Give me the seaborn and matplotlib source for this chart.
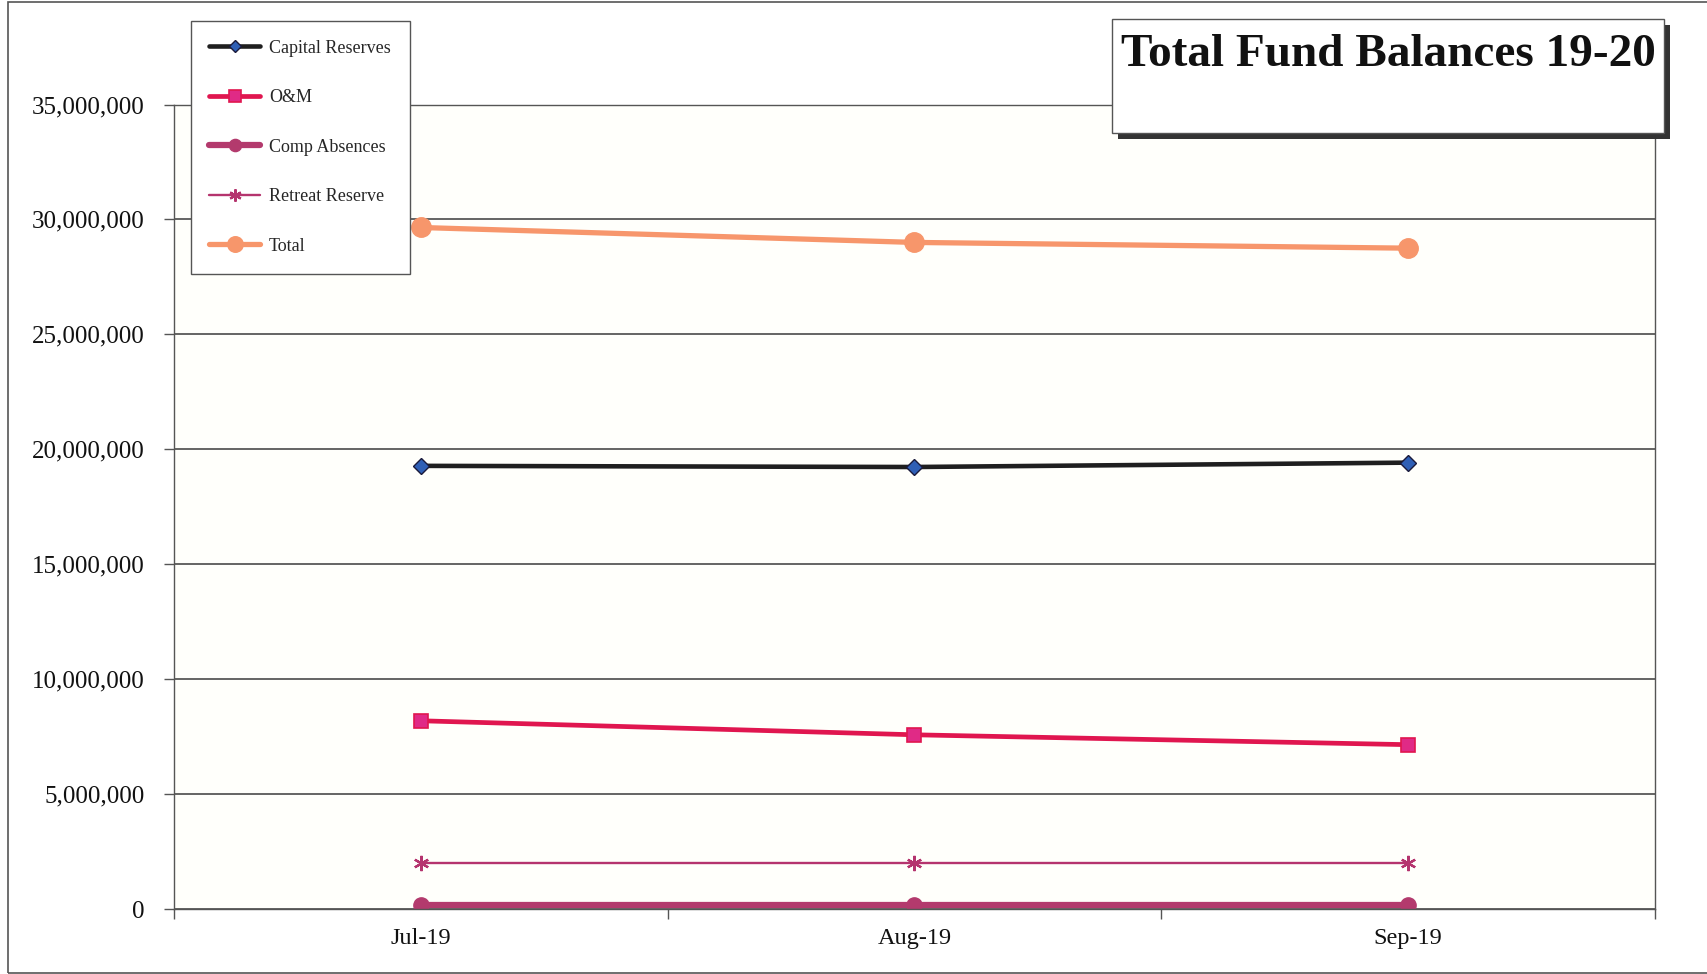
import pandas as pd
import matplotlib.pyplot as plt
import seaborn as sns
from matplotlib.patches import Rectangle
from matplotlib.ticker import FuncFormatter, MultipleLocator

# values
months = ['Jul-19', 'Aug-19', 'Sep-19']
capital_reserves = [19280000, 19230000, 19420000]
o_and_m = [8190000, 7580000, 7150000]
comp_absences = [190000, 190000, 190000]
retreat_reserve = [1990000, 1990000, 1990000]
total = [29650000, 29000000, 28750000]

series = [
    ('Capital Reserves', capital_reserves),
    ('O&M', o_and_m),
    ('Comp Absences', comp_absences),
    ('Retreat Reserve', retreat_reserve),
    ('Total', total),
]

styles = {
    'Capital Reserves': dict(color='#1f1f1f', lw=3.3, marker='D', ms=8,
                             mfc='#2f5fb5', mec='#1a1a3a', mew=1.0),
    'O&M': dict(color='#e0164f', lw=3.4, marker='s', ms=10,
                mfc='#e02a86', mec='#e0164f', mew=1.2),
    'Comp Absences': dict(color='#b33a6d', lw=4.5, marker='o', ms=11,
                          mfc='#b33a6d', mec='#b33a6d', mew=1.0),
    'Retreat Reserve': dict(color='#b5346e', lw=1.7, marker=(6, 2, 0), ms=11,
                            mfc='#b5346e', mec='#b5346e', mew=1.6),
    'Total': dict(color='#f7966b', lw=3.8, marker='o', ms=14,
                  mfc='#f7966b', mec='#f7966b', mew=1.0),
}

sns.set_theme(style='white')
plt.rcParams['font.family'] = ['Liberation Serif', 'DejaVu Serif']

fig = plt.figure(figsize=(17.07, 9.74), dpi=100)
ax = fig.add_axes([0.1019, 0.0667, 0.8676, 0.826])
ax.set_facecolor('#fffffb')

for name, vals in series:
    df = pd.DataFrame({'month': months, 'value': vals})
    st = styles[name]
    sns.lineplot(data=df, x='month', y='value', ax=ax, label=name,
                 color=st['color'], linewidth=st['lw'], marker=st['marker'],
                 markersize=st['ms'], markerfacecolor=st['mfc'],
                 markeredgecolor=st['mec'], markeredgewidth=st['mew'],
                 sort=False)

ax.set_xlim(-0.5, 2.5)
ax.set_ylim(0, 35000000)
ax.yaxis.set_major_locator(MultipleLocator(5000000))
ax.yaxis.set_major_formatter(FuncFormatter(lambda v, p: f'{int(v):,}'))
ax.grid(axis='y', color='#3a3a3a', linewidth=1.1)
ax.grid(axis='x', visible=False)
ax.set_axisbelow(True)

ax.set_xticks([0, 1, 2])
ax.set_xticklabels(months)
ax.set_xticks([-0.5, 0.5, 1.5, 2.5], minor=True)
ax.tick_params(axis='x', which='major', length=0, pad=14, labelsize=17.5,
               colors='#111111')
ax.tick_params(axis='x', which='minor', length=7, width=1, direction='out',
               color='#555555', bottom=True)
ax.tick_params(axis='y', length=7, width=1, direction='out', left=True,
               pad=14, labelsize=18, colors='#555555', labelcolor='#111111')
ax.set_xlabel('')
ax.set_ylabel('')

for side in ['left', 'bottom', 'right', 'top']:
    ax.spines[side].set_color('#555555')
    ax.spines[side].set_linewidth(1.0)

leg = ax.legend(loc='upper left', bbox_to_anchor=(190.5 / 1707, 1 - 20.7 / 974),
                bbox_transform=fig.transFigure, borderaxespad=0,
                fontsize=13, labelspacing=1.8, handlelength=2.8,
                handletextpad=0.5, borderpad=1.05, fancybox=False,
                framealpha=1, edgecolor='#555555', facecolor='white',
                markerscale=0.8)
leg.get_frame().set_linewidth(1.0)
leg.set_zorder(10)

# outer chart border
fig.patches.append(Rectangle((8 / 1707, 1 / 974), 1.2, 1 - 3 / 974,
                             transform=fig.transFigure, fill=False,
                             edgecolor='#555555', linewidth=1.2))

# title box with drop shadow
bx, by, bw, bh = 1112 / 1707, 1 - 133 / 974, 552 / 1707, 114.5 / 974
fig.patches.append(Rectangle((bx + 6 / 1707, by - 6 / 974), bw, bh,
                             transform=fig.transFigure, facecolor='#333333',
                             edgecolor='none', zorder=5))
fig.patches.append(Rectangle((bx, by), bw, bh, transform=fig.transFigure,
                             facecolor='white', edgecolor='#555555',
                             linewidth=1.0, zorder=6))
fig.text(bx + bw / 2, 1 - 34 / 974, 'Total Fund Balances 19-20',
         ha='center', va='top', fontsize=34, fontweight='bold',
         color='#111111', zorder=7)

fig.savefig('out.png', dpi=100)
